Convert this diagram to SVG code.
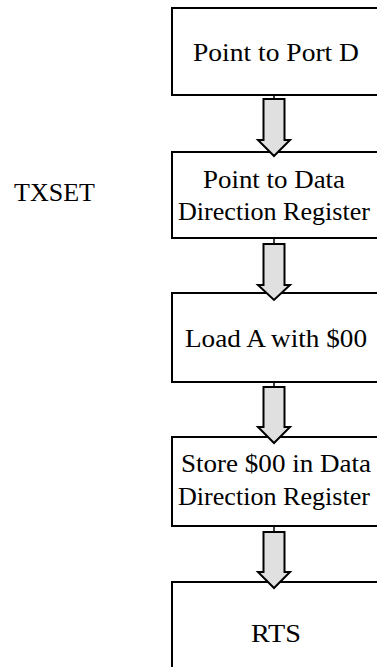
<svg xmlns="http://www.w3.org/2000/svg" width="377" height="667" viewBox="0 0 377 667">
<style>
.box{fill:#ffffff;stroke:#000000;stroke-width:2}
text{font-family:'Liberation Serif','Tinos','Times New Roman','DejaVu Serif',serif;font-size:26px;fill:#000000;text-anchor:middle}
.arr{fill:#e0e0e0;stroke:#000000;stroke-width:2;stroke-linejoin:miter}
.ln{stroke:#000000;stroke-width:1.5}
</style>
<rect width="377" height="667" fill="#ffffff"/>
<g id="label-txset"><text x="95" y="201" text-anchor="end" style="text-anchor:end" font-family="Liberation Serif, serif">TXSET</text></g>
<g id="n1"><rect class="box" x="172" y="8" width="206" height="87"/><text x="276" y="61" font-family="Liberation Serif, serif" textLength="166" lengthAdjust="spacingAndGlyphs">Point to Port D</text></g>
<g id="n2"><rect class="box" x="172" y="152" width="206" height="86"/><text x="274" y="188" font-family="Liberation Serif, serif" textLength="142" lengthAdjust="spacingAndGlyphs">Point to Data</text><text x="274" y="220" font-family="Liberation Serif, serif" textLength="192" lengthAdjust="spacingAndGlyphs">Direction Register</text></g>
<g id="n3"><rect class="box" x="172" y="293" width="206" height="89"/><text x="276" y="347" font-family="Liberation Serif, serif" textLength="182" lengthAdjust="spacingAndGlyphs">Load A with $00</text></g>
<g id="n4"><rect class="box" x="172" y="437" width="206" height="89"/><text x="276" y="472" font-family="Liberation Serif, serif" textLength="190" lengthAdjust="spacingAndGlyphs">Store $00 in Data</text><text x="274" y="505" font-family="Liberation Serif, serif" textLength="192" lengthAdjust="spacingAndGlyphs">Direction Register</text></g>
<g id="n5"><rect class="box" x="172" y="582" width="206" height="100"/><text x="276" y="642" font-family="Liberation Serif, serif" textLength="50" lengthAdjust="spacingAndGlyphs">RTS</text></g>
<g id="connectors">
<line class="ln" x1="274" y1="95" x2="274" y2="99"/>
<path class="arr" d="M263.5,99 H284.5 V140 H290 L274,156 L258,140 H263.5 Z"/>
<line class="ln" x1="274" y1="238" x2="274" y2="244"/>
<path class="arr" d="M263.5,244 H284.5 V285 H290 L274,300 L258,285 H263.5 Z"/>
<line class="ln" x1="274" y1="382" x2="274" y2="387"/>
<path class="arr" d="M263.5,387 H284.5 V427 H290 L274,443 L258,427 H263.5 Z"/>
<line class="ln" x1="274" y1="526" x2="274" y2="532"/>
<path class="arr" d="M263.5,532 H284.5 V572 H290 L274,588 L258,572 H263.5 Z"/>
</g>
</svg>
